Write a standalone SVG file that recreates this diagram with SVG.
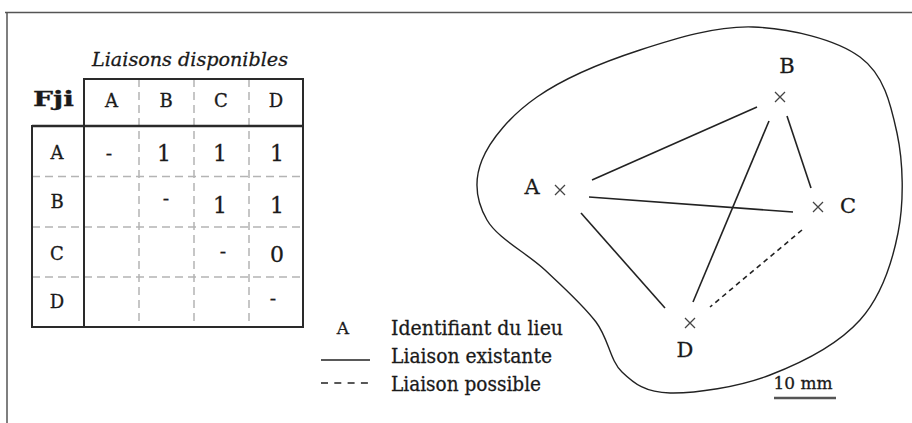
<svg xmlns="http://www.w3.org/2000/svg" width="912" height="423" viewBox="0 0 912 423">
<defs>
<style>
text{font-family:"DejaVu Serif","Liberation Serif",serif;fill:#1a1a1a;stroke:#1a1a1a;stroke-width:0.3}
.frame{stroke:#555;stroke-width:1.5;fill:none}
.blob{stroke:#222;stroke-width:1.4;fill:none}
.box{stroke:#2a2a2a;stroke-width:2;fill:none}
.grid{stroke:#b4b4b4;stroke-width:1.5;stroke-dasharray:8 5;fill:none}
.hd{font-size:18px;text-anchor:middle}
.num{font-size:22px;text-anchor:middle}
.dash{font-size:19px;text-anchor:middle}
.lbl{font-size:21px;text-anchor:middle}
.leg{font-size:20px}
.link{stroke:#222;stroke-width:1.6;fill:none}
.poss{stroke:#222;stroke-width:1.6;stroke-dasharray:5 4;fill:none}
.cross{stroke:#444;stroke-width:1.3;fill:none}
</style>
</defs>
<rect width="912" height="423" fill="#fff"/>
<g id="frame">
<line class="frame" x1="5" y1="12.5" x2="912" y2="12.5"/>
<line class="frame" x1="7" y1="12" x2="7" y2="423"/>
</g>
<g id="table">
<text x="190" y="66" font-size="19" font-style="italic" text-anchor="middle" textLength="196" lengthAdjust="spacingAndGlyphs">Liaisons disponibles</text>
<text x="33" y="106" font-size="20" font-weight="bold" textLength="41" lengthAdjust="spacingAndGlyphs">Fji</text>
<line class="grid" x1="32" y1="176.5" x2="303" y2="176.5"/>
<line class="grid" x1="32" y1="227" x2="303" y2="227"/>
<line class="grid" x1="32" y1="277" x2="303" y2="277"/>
<line class="grid" x1="139" y1="79" x2="139" y2="327"/>
<line class="grid" x1="194" y1="79" x2="194" y2="327"/>
<line class="grid" x1="249" y1="79" x2="249" y2="327"/>
<rect class="box" x="84" y="79" width="219" height="248"/>
<rect class="box" x="32" y="126" width="52" height="201"/>
<line x1="32" y1="126" x2="303" y2="126" stroke="#2a2a2a" stroke-width="2.5"/>
<text class="hd" x="111.5" y="107">A</text>
<text class="hd" x="166" y="107">B</text>
<text class="hd" x="221" y="107">C</text>
<text class="hd" x="276" y="107">D</text>
<text class="hd" x="57" y="159">A</text>
<text class="hd" x="57" y="208">B</text>
<text class="hd" x="57" y="260">C</text>
<text class="hd" x="57" y="308">D</text>
<text class="dash" x="109" y="160">-</text>
<text class="num" x="164" y="161">1</text>
<text class="num" x="220" y="161">1</text>
<text class="num" x="277" y="161">1</text>
<text class="dash" x="166" y="205">-</text>
<text class="num" x="220" y="213">1</text>
<text class="num" x="277" y="213">1</text>
<text class="dash" x="223" y="258">-</text>
<text class="num" x="277" y="262">0</text>
<text class="dash" x="273" y="305">-</text>
</g>
<g id="legend">
<text x="343" y="334" font-size="17" text-anchor="middle">A</text>
<text class="leg" x="391" y="335" textLength="172" lengthAdjust="spacingAndGlyphs">Identifiant du lieu</text>
<line class="link" x1="321" y1="360" x2="370" y2="360"/>
<text class="leg" x="391" y="363" textLength="161" lengthAdjust="spacingAndGlyphs">Liaison existante</text>
<line x1="321" y1="383" x2="370" y2="383" stroke="#222" stroke-width="1.6" stroke-dasharray="7 6.3"/>
<text class="leg" x="391" y="391" textLength="150" lengthAdjust="spacingAndGlyphs">Liaison possible</text>
</g>
<g id="territory">
<path class="blob" d="M753,27 C789.7,28.2 836,39.3 860,57 C884,74.7 890.7,103.7 897,133 C903.3,162.3 904.2,201.8 898,233 C891.8,264.2 881.3,296.3 860,320 C838.7,343.7 801.7,362.8 770,375 C738.3,387.2 694.7,393.5 670,393 C645.3,392.5 634.3,383.8 622,372 C609.7,360.2 608.8,339 596,322 C583.2,305 563.2,287 545,270 C526.8,253 497.5,238.3 487,220 C476.5,201.7 473.7,180.5 482,160 C490.3,139.5 510.7,115.3 537,97 C563.3,78.7 604,61.7 640,50 C676,38.3 716.3,25.8 753,27 Z"/>
</g>
<g id="connectors">
<line class="link" x1="592" y1="180" x2="757" y2="107"/>
<line class="link" x1="589" y1="197" x2="793" y2="212"/>
<line class="link" x1="581" y1="213" x2="665" y2="308"/>
<line class="link" x1="769" y1="121" x2="693" y2="302"/>
<line class="link" x1="787" y1="116" x2="811" y2="188"/>
<line class="poss" x1="802" y1="230" x2="710" y2="307"/>
</g>
<g id="node-A">
<path class="cross" d="M555,185 L565,195 M565,185 L555,195"/>
<text class="lbl" x="532" y="194">A</text>
</g>
<g id="node-B">
<path class="cross" d="M775,92 L785,102 M785,92 L775,102"/>
<text class="lbl" x="787" y="73">B</text>
</g>
<g id="node-C">
<path class="cross" d="M813,202 L823,212 M823,202 L813,212"/>
<text class="lbl" x="848" y="213">C</text>
</g>
<g id="node-D">
<path class="cross" d="M685,318 L695,328 M695,318 L685,328"/>
<text class="lbl" x="685" y="357">D</text>
</g>
<g id="scale">
<text x="803" y="389" font-size="17" text-anchor="middle" textLength="59" lengthAdjust="spacingAndGlyphs">10 mm</text>
<line x1="774" y1="398" x2="836" y2="398" stroke="#555" stroke-width="2.5"/>
</g>
</svg>
